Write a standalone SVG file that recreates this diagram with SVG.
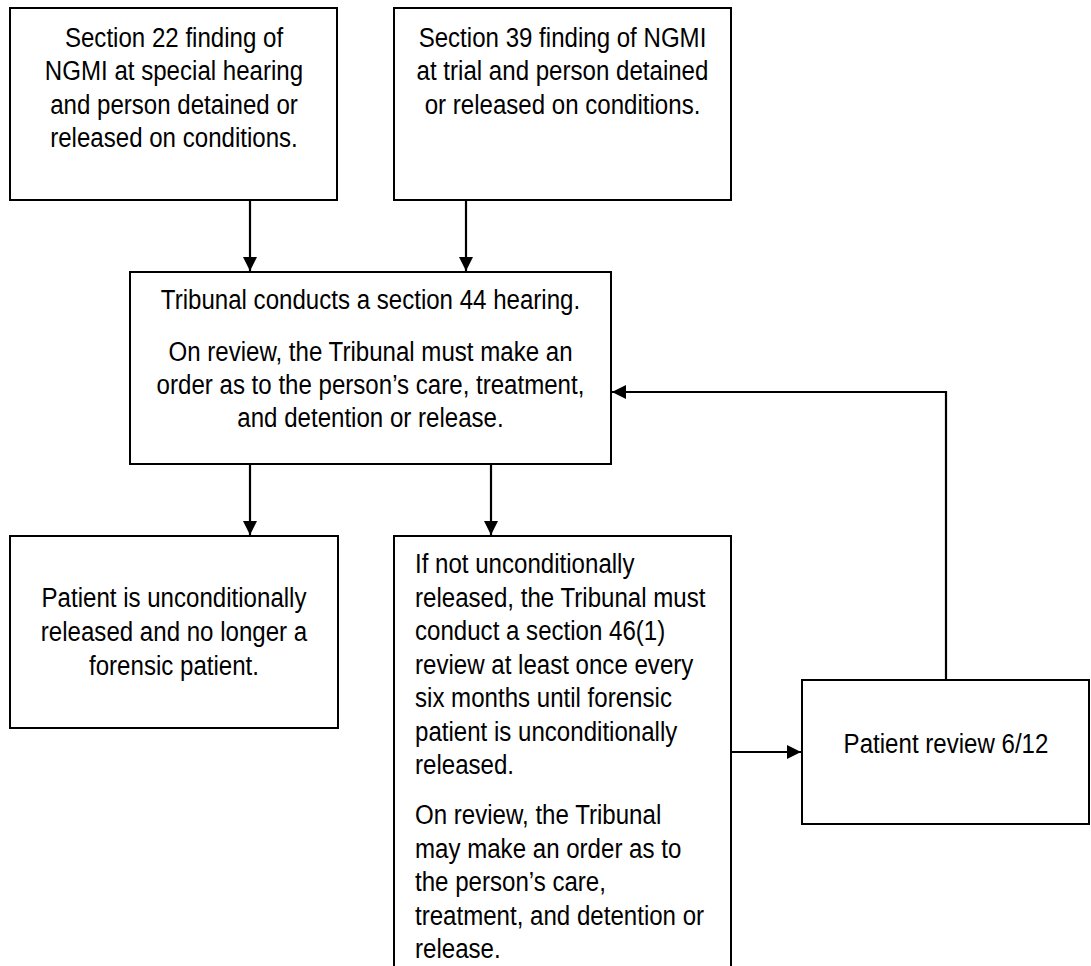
<svg xmlns="http://www.w3.org/2000/svg" width="1091" height="966" viewBox="0 0 1091 966">
<style>
.box{fill:#fff;stroke:#000;stroke-width:2}
.t{font-family:"Liberation Sans",Arial,sans-serif;font-size:28px;fill:#000}
.c{text-anchor:middle}
.conn{fill:none;stroke:#000;stroke-width:2.2}
</style>
<defs>
<marker id="ah" viewBox="0 0 14 14" refX="14" refY="7" markerWidth="14" markerHeight="14" markerUnits="userSpaceOnUse" orient="auto">
<path d="M0,0 L14,7 L0,14 Z" fill="#000"/>
</marker>
</defs>
<rect width="1091" height="966" fill="#fff"/>
<g id="connectors">
<line class="conn" x1="250" y1="200" x2="250" y2="271" marker-end="url(#ah)"/>
<line class="conn" x1="466" y1="200" x2="466" y2="271" marker-end="url(#ah)"/>
<line class="conn" x1="250" y1="464" x2="250" y2="535" marker-end="url(#ah)"/>
<line class="conn" x1="491" y1="464" x2="491" y2="535" marker-end="url(#ah)"/>
<line class="conn" x1="731" y1="752" x2="801" y2="752" marker-end="url(#ah)"/>
<polyline class="conn" points="946,680 946,392 612,392" marker-end="url(#ah)"/>
</g>
<g id="n1">
<rect class="box" x="10" y="8" width="327" height="192"/>
<g transform="translate(174 0) scale(0.86 1)">
<text class="t c" x="0" y="47">Section 22 finding of</text>
<text class="t c" x="0" y="80">NGMI at special hearing</text>
<text class="t c" x="0" y="114">and person detained or</text>
<text class="t c" x="0" y="147">released on conditions.</text>
</g>
</g>
<g id="n2">
<rect class="box" x="394" y="8" width="337" height="192"/>
<g transform="translate(562.5 0) scale(0.86 1)">
<text class="t c" x="0" y="47">Section 39 finding of NGMI</text>
<text class="t c" x="0" y="80">at trial and person detained</text>
<text class="t c" x="0" y="114">or released on conditions.</text>
</g>
</g>
<g id="n3">
<rect class="box" x="130" y="272" width="481" height="192"/>
<g transform="translate(370.5 0) scale(0.86 1)">
<text class="t c" x="0" y="309">Tribunal conducts a section 44 hearing.</text>
<text class="t c" x="0" y="361">On review, the Tribunal must make an</text>
<text class="t c" x="0" y="394">order as to the person’s care, treatment,</text>
<text class="t c" x="0" y="427">and detention or release.</text>
</g>
</g>
<g id="n4">
<rect class="box" x="10" y="536" width="328" height="192"/>
<g transform="translate(174 0) scale(0.86 1)">
<text class="t c" x="0" y="607">Patient is unconditionally</text>
<text class="t c" x="0" y="641">released and no longer a</text>
<text class="t c" x="0" y="675">forensic patient.</text>
</g>
</g>
<g id="n5">
<rect class="box" x="394" y="536" width="337" height="440"/>
<g transform="translate(415 0) scale(0.86 1)">
<text class="t" x="0" y="573">If not unconditionally</text>
<text class="t" x="0" y="607">released, the Tribunal must</text>
<text class="t" x="0" y="640">conduct a section 46(1)</text>
<text class="t" x="0" y="674">review at least once every</text>
<text class="t" x="0" y="707">six months until forensic</text>
<text class="t" x="0" y="741">patient is unconditionally</text>
<text class="t" x="0" y="774">released.</text>
<text class="t" x="0" y="824">On review, the Tribunal</text>
<text class="t" x="0" y="858">may make an order as to</text>
<text class="t" x="0" y="891">the person’s care,</text>
<text class="t" x="0" y="925">treatment, and detention or</text>
<text class="t" x="0" y="958">release.</text>
</g>
</g>
<g id="n6">
<rect class="box" x="802" y="680" width="287" height="144"/>
<g transform="translate(946 0) scale(0.86 1)">
<text class="t c" x="0" y="753">Patient review 6/12</text>
</g>
</g>
</svg>
